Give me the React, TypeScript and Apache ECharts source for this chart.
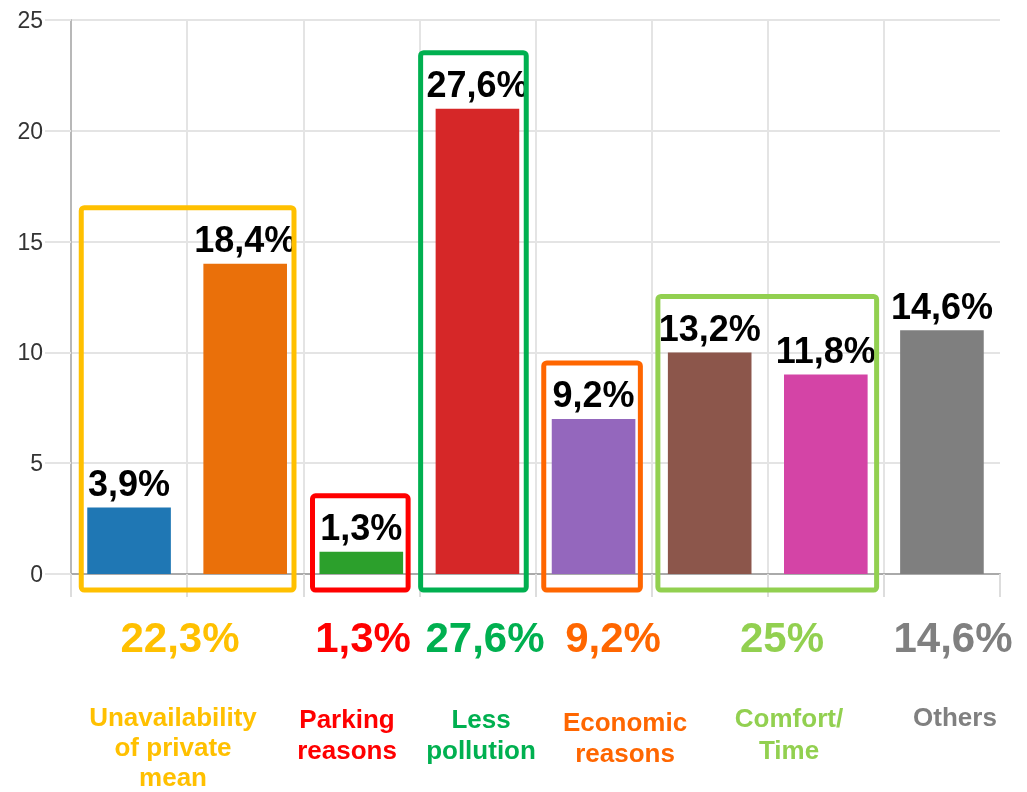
import React, { useEffect, useRef } from "react";
import * as echarts from "echarts";

const categories = ["Unavailability A", "Unavailability B", "Parking", "Less pollution", "Economic", "Comfort", "Time", "Others"];
const values = [3, 14, 1, 21, 7, 10, 9, 11];
const barLabels = ["3,9%", "18,4%", "1,3%", "27,6%", "9,2%", "13,2%", "11,8%", "14,6%"];
const barColors = ["#1f77b4", "#ea700a", "#2ca02c", "#d62728", "#9467bd", "#8c564b", "#d444a6", "#7f7f7f"];
const yTicks = [0, 5, 10, 15, 20, 25];

const groupNames = ["Unavailability\nof private\nmean", "Parking\nreasons", "Less\npollution", "Economic\nreasons", "Comfort/\nTime", "Others"];
const groupTotals = ["22,3%", "1,3%", "27,6%", "9,2%", "25%", "14,6%"];
const groupColors = ["#ffc000", "#ff0000", "#00b050", "#ff6600", "#92d050", "#808080"];
const groupFirst = [0, 2, 3, 4, 5, 7];
const groupLast = [1, 2, 3, 4, 6, 7];
const groupBoxed = [true, true, true, true, true, false];

// annotation layout (pixels)
const boxPadL = [6, 7, 15, 8, 10, 0];
const boxPadR = [7, 5, 7, 5, 9, 0];
const totalX = [180, 363, 485, 613, 782, 953];
const nameX = [173, 347, 481, 625, 789, 955];
const nameTop = [702, 703, 703, 706, 702, 701];
const nameLineHeight = [30, 31, 31, 31, 32, 31];

const FONT = "'Liberation Sans', Arial, sans-serif";

export default function App() {
  const ref = useRef<HTMLDivElement>(null);
  useEffect(() => {
    if (!ref.current) return;
    const chart = echarts.init(ref.current, null, { renderer: "svg" });
    chart.setOption({
      animation: false,
      grid: { left: 71, right: 27, top: 20, bottom: 218, containLabel: false },
      xAxis: {
        type: "category",
        data: categories,
        axisLine: { show: true, lineStyle: { color: "#aaaaaa", width: 2 } },
        axisTick: { show: true, interval: 0, length: 23, lineStyle: { color: "#dddddd", width: 2 } },
        axisLabel: { show: false },
        splitLine: { show: true, interval: 0, showMaxLine: false, lineStyle: { color: "#e4e4e4", width: 2 } },
      },
      yAxis: {
        type: "value",
        min: yTicks[0],
        max: yTicks[yTicks.length - 1],
        interval: 5,
        axisLine: { show: true, lineStyle: { color: "#b8b8b8", width: 2 } },
        axisTick: { show: true, length: 26, lineStyle: { color: "#e4e4e4", width: 2 } },
        axisLabel: { margin: 28, fontSize: 23, color: "#333333", fontFamily: FONT },
        splitLine: { show: true, lineStyle: { color: "#e4e4e4", width: 2 } },
      },
      series: [
        {
          type: "bar",
          barWidth: "72%",
          data: values.map((v, i) => ({ value: v, itemStyle: { color: barColors[i] } })),
          label: {
            show: true,
            position: "top",
            distance: 6,
            formatter: (p: any) => barLabels[p.dataIndex],
            fontSize: 36,
            fontWeight: "bold",
            color: "#000000",
            fontFamily: FONT,
          },
        },
      ],
    });

    const cx = (i: number) => chart.convertToPixel({ xAxisIndex: 0 }, i) as number;
    const cy = (v: number) => chart.convertToPixel({ yAxisIndex: 0 }, v) as number;
    const band = cx(1) - cx(0);
    const barW = band * 0.72;
    const graphics: any[] = [];
    groupNames.forEach((name, g) => {
      if (groupBoxed[g]) {
        const f = groupFirst[g];
        const l = groupLast[g];
        let maxV = 0;
        for (let i = f; i <= l; i++) maxV = Math.max(maxV, values[i]);
        const left = cx(f) - barW / 2 - boxPadL[g];
        const right = cx(l) + barW / 2 + boxPadR[g];
        const top = cy(maxV) - 56;
        const bottom = cy(0) + 16;
        graphics.push({
          type: "rect",
          z: 100,
          shape: { x: left, y: top, width: right - left, height: bottom - top, r: 3 },
          style: { fill: "none", stroke: groupColors[g], lineWidth: 5 },
        });
      }
      graphics.push({
        type: "text",
        z: 100,
        x: totalX[g],
        y: 637,
        style: {
          text: groupTotals[g],
          fill: groupColors[g],
          font: `bold 42px ${FONT}`,
          textAlign: "center",
          textVerticalAlign: "middle",
        },
      });
      graphics.push({
        type: "text",
        z: 100,
        x: nameX[g],
        y: nameTop[g],
        style: {
          text: name,
          fill: groupColors[g],
          font: `bold 26px ${FONT}`,
          lineHeight: nameLineHeight[g],
          textAlign: "center",
          textVerticalAlign: "top",
        },
      });
    });
    chart.setOption({ graphic: graphics });

    return () => chart.dispose();
  }, []);
  return <div ref={ref} style={{ position: "fixed", left: 0, top: 0, width: 1027, height: 792 }} />;
}
